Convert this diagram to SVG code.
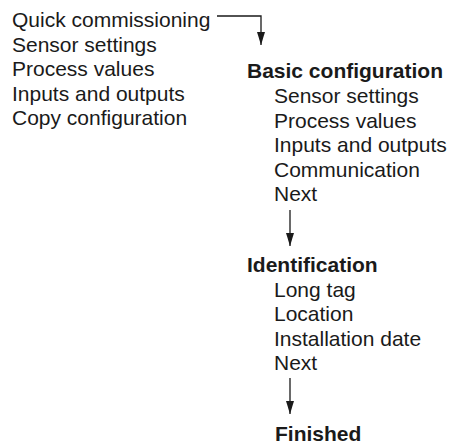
<svg xmlns="http://www.w3.org/2000/svg" width="451" height="444" viewBox="0 0 451 444">
  <style>
    text { font-family: "Liberation Sans", Arial, sans-serif; font-size: 21px; fill: #1a1a1a; }
    .head { font-weight: bold; }
    .wire { fill: none; stroke: #1a1a1a; stroke-width: 1.3; }
  </style>
  <defs>
    <marker id="arrow" viewBox="0 0 13 8" refX="13" refY="4" markerWidth="13" markerHeight="8" markerUnits="userSpaceOnUse" orient="auto">
      <path d="M0,0 L13,4 L0,8 Z" fill="#1a1a1a"/>
    </marker>
  </defs>

  <rect width="451" height="444" fill="#ffffff"/>

  <!-- main menu -->
  <g id="main-menu">
    <text x="12" y="27">Quick commissioning</text>
    <text x="12" y="51.5">Sensor settings</text>
    <text x="12" y="76">Process values</text>
    <text x="12" y="100.5">Inputs and outputs</text>
    <text x="12" y="125">Copy configuration</text>
  </g>

  <!-- basic configuration step -->
  <g id="basic-configuration">
    <text class="head" x="247" y="78">Basic configuration</text>
    <text x="274" y="103">Sensor settings</text>
    <text x="274" y="127.5">Process values</text>
    <text x="274" y="152">Inputs and outputs</text>
    <text x="274" y="176.5">Communication</text>
    <text x="274" y="201">Next</text>
  </g>

  <!-- identification step -->
  <g id="identification">
    <text class="head" x="247" y="272">Identification</text>
    <text x="274" y="296.5">Long tag</text>
    <text x="274" y="321">Location</text>
    <text x="274" y="345.5">Installation date</text>
    <text x="274" y="370">Next</text>
  </g>

  <!-- final step -->
  <g id="finished">
    <text class="head" x="275" y="440.5">Finished</text>
  </g>

  <g id="connectors">
    <path class="wire" d="M217,16 H261 V45" marker-end="url(#arrow)"/>
    <path class="wire" d="M290,210 V246" marker-end="url(#arrow)"/>
    <path class="wire" d="M290,378 V414" marker-end="url(#arrow)"/>
  </g>
</svg>
